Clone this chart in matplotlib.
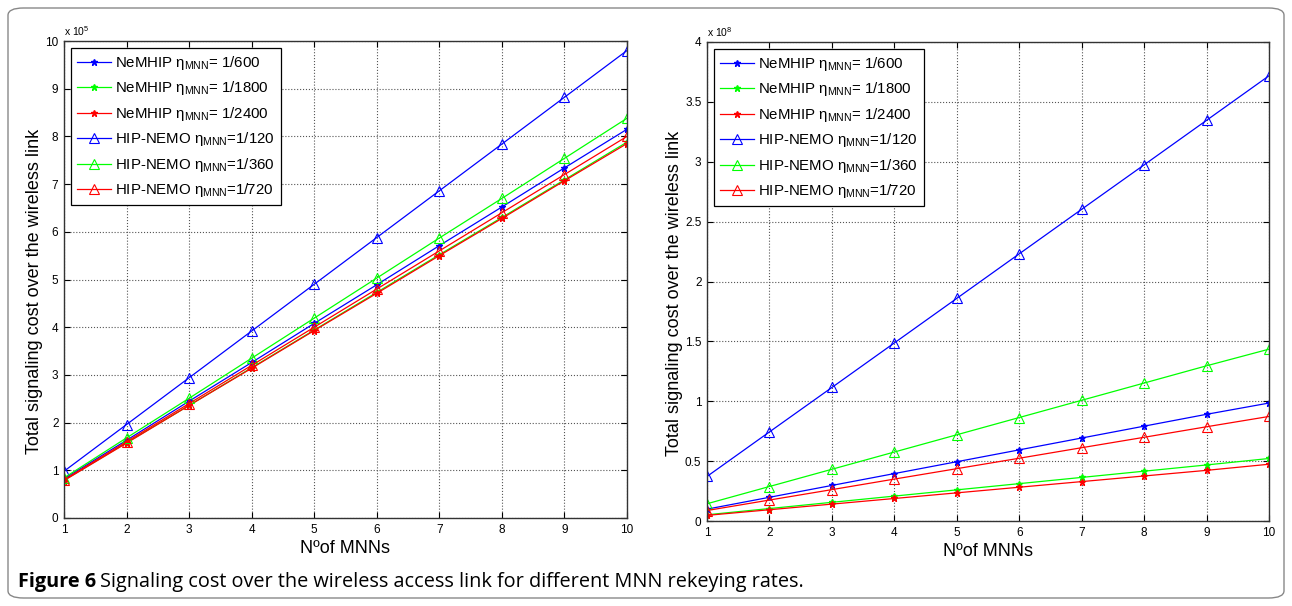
import numpy as np
import matplotlib
matplotlib.use("Agg")
import matplotlib.pyplot as plt
from matplotlib.patches import FancyBboxPatch

plt.rcParams["font.family"] = ["Liberation Sans", "DejaVu Sans"]
plt.rcParams["mathtext.fontset"] = "custom"
plt.rcParams["mathtext.rm"] = "Liberation Sans"
plt.rcParams["mathtext.it"] = "Liberation Sans"
plt.rcParams["mathtext.bf"] = "Liberation Sans:bold"

mnn = [1, 2, 3, 4, 5, 6, 7, 8, 9, 10]

# left panel, units of 1e5
left_nemhip_600 = [0.82, 1.63, 2.45, 3.26, 4.08, 4.89, 5.71, 6.52, 7.34, 8.15]
left_nemhip_1800 = [0.79, 1.58, 2.36, 3.15, 3.94, 4.73, 5.52, 6.30, 7.09, 7.88]
left_nemhip_2400 = [0.785, 1.57, 2.36, 3.14, 3.93, 4.71, 5.50, 6.28, 7.07, 7.85]
left_hip_120 = [0.98, 1.96, 2.94, 3.92, 4.90, 5.88, 6.86, 7.84, 8.82, 9.80]
left_hip_360 = [0.84, 1.68, 2.51, 3.35, 4.19, 5.03, 5.87, 6.70, 7.54, 8.38]
left_hip_720 = [0.80, 1.60, 2.40, 3.20, 4.00, 4.80, 5.60, 6.40, 7.20, 8.00]

# right panel, units of 1e8
right_nemhip_600 = [0.099, 0.198, 0.297, 0.396, 0.495, 0.594, 0.693, 0.792, 0.891, 0.985]
right_nemhip_1800 = [0.052, 0.104, 0.156, 0.208, 0.260, 0.312, 0.364, 0.416, 0.468, 0.522]
right_nemhip_2400 = [0.047, 0.094, 0.141, 0.188, 0.235, 0.282, 0.329, 0.376, 0.423, 0.474]
right_hip_120 = [0.372, 0.744, 1.115, 1.487, 1.859, 2.231, 2.603, 2.974, 3.346, 3.718]
right_hip_360 = [0.144, 0.288, 0.432, 0.576, 0.720, 0.864, 1.008, 1.152, 1.296, 1.435]
right_hip_720 = [0.0875, 0.175, 0.262, 0.350, 0.437, 0.524, 0.612, 0.699, 0.787, 0.873]

labels = [r"NeMHIP $\eta_{\rm MNN}$= 1/600",
          r"NeMHIP $\eta_{\rm MNN}$= 1/1800",
          r"NeMHIP $\eta_{\rm MNN}$= 1/2400",
          r"HIP-NEMO $\eta_{\rm MNN}$=1/120",
          r"HIP-NEMO $\eta_{\rm MNN}$=1/360",
          r"HIP-NEMO $\eta_{\rm MNN}$=1/720"]
colors = ["#0000ff", "#00ff00", "#ff0000", "#0000ff", "#00ff00", "#ff0000"]
markers = ["*", "*", "*", "^", "^", "^"]

fig = plt.figure(figsize=(12.92, 6.06), dpi=100)
fig.patch.set_facecolor("white")

frame = FancyBboxPatch((8 / 1292, 8 / 606), 1276 / 1292, 590 / 606,
                       boxstyle="round,pad=0,rounding_size=0.012",
                       transform=fig.transFigure, fill=False,
                       edgecolor="#888888", linewidth=1.0)
fig.patches.append(frame)

ax1 = fig.add_axes([64 / 1292, 1 - 518 / 606, 563 / 1292, 477 / 606])
ax2 = fig.add_axes([707 / 1292, 1 - 521 / 606, 562 / 1292, 479 / 606])


def draw(ax, series, ymax, yticks, exp):
    for i, ys in enumerate(series):
        if markers[i] == "*":
            ax.plot(mnn, ys, color=colors[i], marker="*", markersize=4.5,
                    linewidth=0.9, label=labels[i])
        else:
            ax.plot(mnn, ys, color=colors[i], marker="^", markersize=6.5,
                    markerfacecolor="none", markeredgewidth=0.8,
                    linewidth=0.9, label=labels[i])
    ax.set_xlim(1, 10)
    ax.set_ylim(0, ymax)
    ax.set_xticks(mnn)
    ax.set_yticks(yticks)
    ax.set_yticklabels([("%g" % t) for t in yticks])
    ax.tick_params(direction="in", top=True, right=True, labelsize=8.5,
                   length=4, width=0.8, pad=4)
    ax.grid(True, linestyle=":", color="#555555", linewidth=0.8)
    for s in ax.spines.values():
        s.set_color("#333333")
        s.set_linewidth(1.0)
    ax.set_xlabel("Nºof MNNs", fontsize=13, labelpad=3)
    ax.set_ylabel("Total signaling cost over the wireless link",
                  fontsize=13, labelpad=1.5)
    ax.yaxis.label.set_y(0.475)
    ax.text(0.0, 1.006, r"x 10$^{%d}$" % exp, transform=ax.transAxes,
            fontsize=7.5, ha="left", va="bottom")
    leg = ax.legend(loc="upper left", fontsize=10.8, frameon=True,
                    fancybox=False, framealpha=1, edgecolor="black",
                    handlelength=2.3, labelspacing=0.5,
                    borderaxespad=0.45, borderpad=0.4, handletextpad=0.25)
    leg.get_frame().set_linewidth(0.9)


draw(ax1, [left_nemhip_600, left_nemhip_1800, left_nemhip_2400,
           left_hip_120, left_hip_360, left_hip_720],
     10, list(range(0, 11)), 5)
draw(ax2, [right_nemhip_600, right_nemhip_1800, right_nemhip_2400,
           right_hip_120, right_hip_360, right_hip_720],
     4, [0, 0.5, 1, 1.5, 2, 2.5, 3, 3.5, 4], 8)

t1 = fig.text(18 / 1292, 1 - 587 / 606, "Figure 6", fontsize=14.3,
              fontweight="bold", family=["Open Sans", "DejaVu Sans"],
              va="baseline")
fig.canvas.draw()
bb = t1.get_window_extent()
fig.text(bb.x1 / 1292 + 4 / 1292, 1 - 587 / 606,
         "Signaling cost over the wireless access link for different MNN rekeying rates.",
         fontsize=14.3, family=["Open Sans", "DejaVu Sans"], va="baseline")

fig.savefig("out.png", dpi=100)
